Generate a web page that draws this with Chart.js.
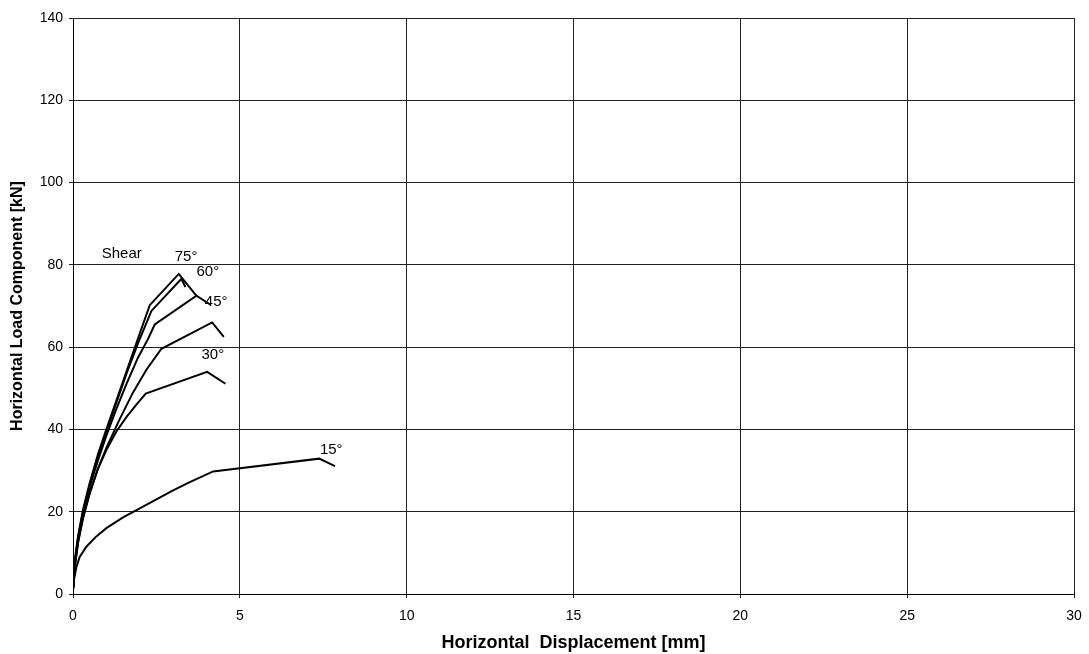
<!DOCTYPE html>
<html>
<head>
<meta charset="utf-8">
<script src="https://cdn.jsdelivr.net/npm/chart.js@4.4.0/dist/chart.umd.min.js"></script>
<style>
  html, body { margin: 0; padding: 0; background: #fff; }
  #wrap { width: 1089px; height: 654px; }
</style>
</head>
<body>
<div id="wrap"><canvas id="loadChart" width="1089" height="654"></canvas></div>
<script>
// Load-displacement curves (x in mm, y in kN)
const shear = [[0,1],[0.05,7.5],[0.15,13.5],[0.3,20],[0.5,26.5],[0.75,33.5],[1.0,39.5],[1.3,46.5],[1.6,53.5],[1.95,61],[2.35,68.8],[3.25,76.6],[3.37,74.6]];
const deg75 = [[0,1],[0.05,8],[0.15,14],[0.3,20.5],[0.5,27],[0.75,34],[1.0,40],[1.3,47],[1.6,54],[1.9,61],[2.3,70.2],[3.17,77.8],[3.72,72.3]];
const deg60 = [[0,1],[0.05,7],[0.15,13],[0.3,19.5],[0.5,26],[0.75,32.5],[1.0,38.5],[1.3,45],[1.6,51],[1.95,57.5],[2.25,62],[2.45,65.5],[3.7,72.5],[4.12,70.3]];
const deg45 = [[0,1],[0.05,6.5],[0.15,12.5],[0.3,18.5],[0.5,24.5],[0.75,30.5],[1.0,35.5],[1.4,42.5],[1.8,49],[2.2,54.5],[2.65,59.6],[4.17,66.0],[4.52,62.5]];
const deg30 = [[0,1],[0.05,6.5],[0.15,12.5],[0.3,18.5],[0.5,24.5],[0.75,30.5],[1.0,35],[1.3,39.5],[1.6,43],[1.9,46],[2.18,48.7],[4.02,54.0],[4.57,51.1]];
const deg15 = [[0,1],[0.03,3.5],[0.1,6.5],[0.2,9],[0.4,11.5],[0.7,14],[1.0,16],[1.5,18.6],[2.0,20.8],[2.5,23],[3.0,25.2],[3.5,27.2],[4.2,29.8],[7.38,32.9],[7.85,31.1]];

// curve labels, placed in data units
const curveLabels = ['Shear', '75°', '60°', '45°', '30°', '15°'];
const labelX = [1.46, 3.39, 4.04, 4.29, 4.19, 7.74];
const labelY = [82.6, 82.0, 78.2, 71.0, 58.2, 35.1];

const FONT = '"Liberation Sans", Arial, Helvetica, sans-serif';

function toPoints(arr) {
    return arr.map(p => ({ x: p[0], y: p[1] }));
}

function lineSet(name, arr) {
    return {
        label: name,
        data: toPoints(arr),
        borderColor: '#000',
        borderWidth: 2,
        pointRadius: 0,
        tension: 0,
        fill: false
    };
}

// writes the angle labels next to the curves
const curveLabelPlugin = {
    id: 'curveLabels',
    afterDatasetsDraw(chart) {
        const c = chart.ctx;
        const xs = chart.scales.x;
        const ys = chart.scales.y;
        c.save();
        c.font = '15px ' + FONT;
        c.fillStyle = '#000';
        c.textAlign = 'center';
        c.textBaseline = 'middle';
        curveLabels.forEach((t, i) => {
            c.fillText(t, xs.getPixelForValue(labelX[i]), ys.getPixelForValue(labelY[i]));
        });
        c.restore();
    }
};

const ctx = document.getElementById('loadChart').getContext('2d');

new Chart(ctx, {
    type: 'line',
    data: {
        datasets: [
            lineSet('Shear', shear),
            lineSet('75°', deg75),
            lineSet('60°', deg60),
            lineSet('45°', deg45),
            lineSet('30°', deg30),
            lineSet('15°', deg15)
        ]
    },
    plugins: [curveLabelPlugin],
    options: {
        responsive: false,
        animation: false,
        layout: {
            padding: { top: 18, right: 15, left: 0, bottom: 0 }
        },
        plugins: {
            legend: { display: false },
            tooltip: { enabled: false }
        },
        scales: {
            x: {
                type: 'linear',
                min: 0,
                max: 30,
                ticks: {
                    stepSize: 5,
                    color: '#000',
                    font: { family: FONT, size: 14 },
                    padding: 10,
                    maxRotation: 0
                },
                grid: {
                    color: '#222',
                    lineWidth: 1,
                    tickLength: 4
                },
                border: { color: '#000', width: 1 },
                title: {
                    display: true,
                    text: 'Horizontal  Displacement [mm]',
                    color: '#000',
                    font: { family: FONT, size: 18, weight: 'bold' },
                    padding: { top: 0, bottom: 0 }
                },
                afterFit(scale) {
                    scale.height = 60;
                    scale.paddingRight = 0;
                }
            },
            y: {
                type: 'linear',
                min: 0,
                max: 140,
                ticks: {
                    stepSize: 20,
                    color: '#000',
                    font: { family: FONT, size: 14 },
                    padding: 6
                },
                grid: {
                    color: '#222',
                    lineWidth: 1,
                    tickLength: 4
                },
                border: { color: '#000', width: 1 },
                title: {
                    display: true,
                    text: 'Horizontal Load Component [kN]',
                    color: '#000',
                    font: { family: FONT, size: 16, weight: 'bold' },
                    padding: { top: 8, bottom: 0 }
                },
                afterFit(scale) { scale.width = 73; }
            }
        }
    }
});
</script>
</body>
</html>
